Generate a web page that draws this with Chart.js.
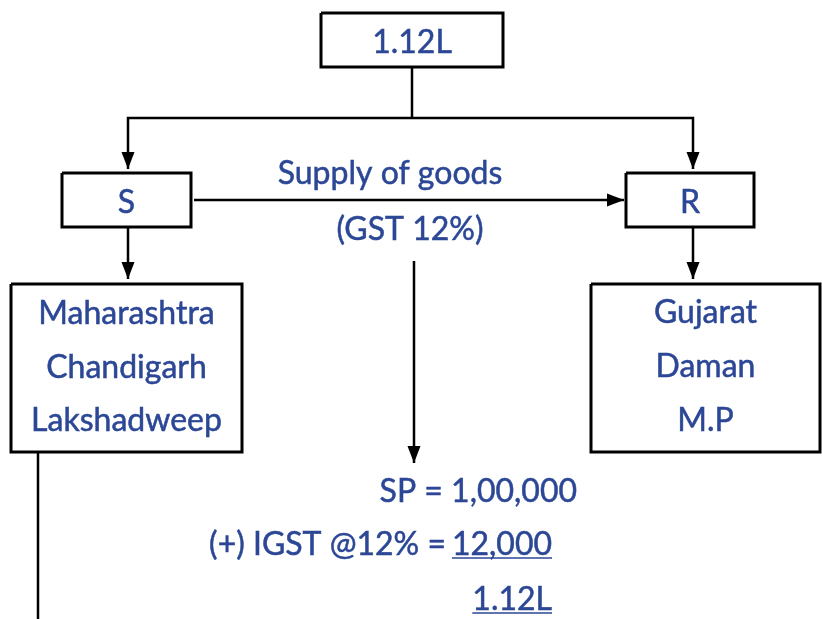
<!doctype html>
<html lang="en">
<head>
    <meta charset="utf-8">
    <title>IGST flow</title>
    <script src="https://cdn.jsdelivr.net/npm/chart.js"></script>
    <style>
        body {
            background-color: #ffffff;
            margin: 0;
            padding: 0;
            overflow: hidden;
        }
        canvas {
            display: block;
        }
    </style>
</head>
<body>
    <canvas id="flowChart" width="822" height="619"></canvas>
    <script>
        // boxes: text lines and their edges (diagram units = pixels of the reference)
        const boxText = [
            ['1.12L'],
            ['S'],
            ['R'],
            ['Maharashtra', 'Chandigarh', 'Lakshadweep'],
            ['Gujarat', 'Daman', 'M.P']
        ];
        const boxLeft = [321, 62, 626, 11, 591];
        const boxRight = [503, 191, 754, 242, 820];
        const boxTop = [13, 173, 173, 284, 284];
        const boxBottom = [67, 227, 227, 452, 452];
        const boxBaselines = [[53], [213], [213], [324, 378, 431], [323, 377, 431]];

        // connectors: polylines, last point gets an arrow head when arrow is true
        const linkPoints = [
            [[412, 67], [412, 118]],
            [[412, 118], [128, 118], [128, 169]],
            [[412, 118], [693, 118], [693, 169]],
            [[194, 200], [624, 200]],
            [[128, 227], [128, 279]],
            [[693, 227], [693, 279]],
            [[414, 261], [414, 463]],
            [[38, 452], [38, 619]]
        ];
        const linkArrow = [false, true, true, true, true, true, true, false];

        // free text
        const noteText = ['Supply of goods', '(GST 12%)', 'SP = 1,00,000', '(+) IGST @12% =', '12,000', '1.12L'];
        const noteX = [390, 410, 577, 446, 552, 552];
        const noteY = [184, 240, 502, 555, 555, 610];
        const noteAlign = ['center', 'center', 'right', 'right', 'right', 'right'];
        const noteUnderline = [false, false, false, false, true, true];

        const textColor = '#2b4795';
        const fontSpec = '32px Lato';

        // arrow head image, tip sits at the image centre, pointing up
        const arrowHead = document.createElement('canvas');
        arrowHead.width = 14;
        arrowHead.height = 34;
        (function () {
            const c = arrowHead.getContext('2d');
            c.fillStyle = '#000';
            c.beginPath();
            c.moveTo(7, 17);
            c.lineTo(0.5, 34);
            c.lineTo(13.5, 34);
            c.closePath();
            c.fill();
        })();

        const datasets = [];
        boxText.forEach((t, i) => {
            datasets.push({
                data: [
                    { x: boxLeft[i], y: boxTop[i] },
                    { x: boxRight[i], y: boxTop[i] },
                    { x: boxRight[i], y: boxBottom[i] },
                    { x: boxLeft[i], y: boxBottom[i] },
                    { x: boxLeft[i], y: boxTop[i] }
                ],
                showLine: true,
                borderColor: '#000',
                borderWidth: 3,
                borderJoinStyle: 'miter',
                pointRadius: 0,
                clip: false
            });
        });
        linkPoints.forEach((pts, i) => {
            const n = pts.length;
            const dx = pts[n - 1][0] - pts[n - 2][0];
            const dy = pts[n - 1][1] - pts[n - 2][1];
            const rot = Math.atan2(dy, dx) * 180 / Math.PI + 90;
            datasets.push({
                data: pts.map(p => ({ x: p[0], y: p[1] })),
                showLine: true,
                borderColor: '#000',
                borderWidth: 2.5,
                borderJoinStyle: 'miter',
                pointStyle: arrowHead,
                pointRadius: pts.map((p, j) => (linkArrow[i] && j === n - 1) ? 5 : 0),
                pointRotation: rot,
                clip: false
            });
        });

        const textPlugin = {
            id: 'diagramText',
            afterDatasetsDraw(chart) {
                const ctx = chart.ctx;
                const xs = chart.scales.x;
                const ys = chart.scales.y;
                ctx.save();
                ctx.font = fontSpec;
                ctx.fillStyle = textColor;
                ctx.strokeStyle = textColor;
                ctx.textBaseline = 'alphabetic';
                ctx.textAlign = 'center';
                ctx.lineWidth = 0.5;
                boxText.forEach((lines, i) => {
                    const cx = xs.getPixelForValue((boxLeft[i] + boxRight[i]) / 2);
                    lines.forEach((line, j) => {
                        const py = ys.getPixelForValue(boxBaselines[i][j]);
                        ctx.fillText(line, cx, py);
                        ctx.strokeText(line, cx, py);
                    });
                });
                noteText.forEach((t, i) => {
                    const px = xs.getPixelForValue(noteX[i]);
                    const py = ys.getPixelForValue(noteY[i]);
                    ctx.textAlign = noteAlign[i];
                    ctx.lineWidth = 0.5;
                    ctx.fillText(t, px, py);
                    ctx.strokeText(t, px, py);
                    if (noteUnderline[i]) {
                        const w = ctx.measureText(t).width;
                        const x0 = noteAlign[i] === 'right' ? px - w : (noteAlign[i] === 'center' ? px - w / 2 : px);
                        ctx.lineWidth = 1.5;
                        ctx.beginPath();
                        ctx.moveTo(x0, py + 3);
                        ctx.lineTo(x0 + w, py + 3);
                        ctx.stroke();
                    }
                });
                ctx.restore();
            }
        };

        const flowChart = new Chart(document.getElementById('flowChart').getContext('2d'), {
            type: 'scatter',
            data: { datasets: datasets },
            options: {
                responsive: false,
                animation: false,
                events: [],
                layout: { padding: 0, autoPadding: false },
                scales: {
                    x: { type: 'linear', min: 0, max: 822, display: false },
                    y: { type: 'linear', min: 0, max: 619, reverse: true, display: false }
                },
                plugins: {
                    legend: { display: false },
                    tooltip: { enabled: false }
                }
            },
            plugins: [textPlugin]
        });
    </script>
</body>
</html>
